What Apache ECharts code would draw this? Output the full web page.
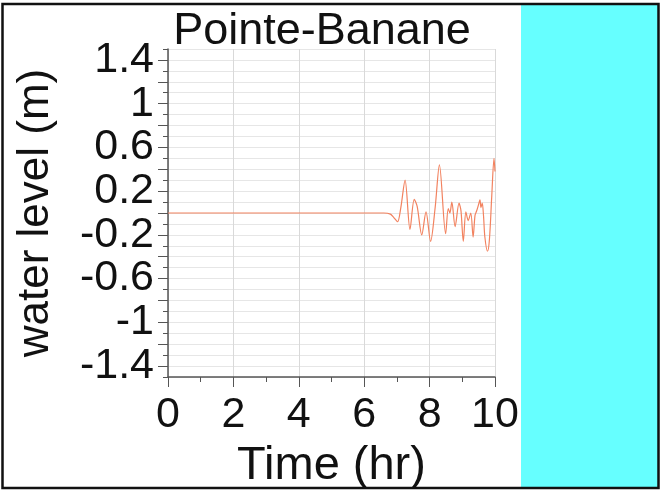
<!DOCTYPE html>
<html>
<head>
<meta charset="utf-8">
<script src="https://cdn.jsdelivr.net/npm/echarts@6/dist/echarts.min.js"></script>
<style>
  html, body { margin: 0; padding: 0; background: #ffffff; }
  #chart { width: 669px; height: 490px; }
</style>
</head>
<body>
<div id="chart"></div>
<script>
// ---- data ----
const titleText = "Pointe-Banane";
const xName = "Time (hr)";
const yName = "water level (m)";
const timeHr = [0, 6.6, 6.8, 6.9, 7.02, 7.12, 7.25, 7.4, 7.53, 7.62, 7.76, 7.89, 8.03, 8.17, 8.3, 8.49, 8.57, 8.62, 8.68, 8.78, 8.9, 8.96, 9.03, 9.11, 9.18, 9.26, 9.33, 9.39, 9.44, 9.49, 9.54, 9.57, 9.61, 9.65, 9.69, 9.77, 9.83, 9.9, 9.97, 10.0];
const waterLevel = [0, 0, -0.01, -0.04, -0.08, 0.05, 0.30, -0.15, 0.125, 0.06, -0.20, 0.01, -0.26, 0.05, 0.44, -0.19, 0.04, 0.0, 0.10, -0.125, 0.09, 0.02, -0.26, 0.01, -0.07, 0.0, -0.22, -0.02, 0.02, 0.07, 0.12, 0.05, 0.09, -0.03, -0.22, -0.35, -0.24, 0.15, 0.5, 0.38];
const xTickLabels = [0, 2, 4, 6, 8, 10];
const yTickLabels = [-1.4, -1, -0.6, -0.2, 0.2, 0.6, 1, 1.4];

const seriesData = timeHr.map((t, i) => [t, waterLevel[i]]);
const FONT = "'Liberation Sans', Arial, sans-serif";

const chart = echarts.init(document.getElementById('chart'), null, { renderer: 'canvas' });

const gTop = 49, gBottom = 113, gLeft = 168, gRight = 174;
const unitPx = (490 - gTop - gBottom) / 3.0;

chart.setOption({
  animation: false,
  backgroundColor: '#ffffff',
  title: {
    text: titleText,
    left: 317,
    top: 4,
    textAlign: 'center',
    textStyle: { fontFamily: FONT, fontSize: 45, fontWeight: 'normal', color: '#111' }
  },
  graphic: [
    { type: 'rect', shape: { x: 521, y: 4, width: 137, height: 483 }, style: { fill: '#66ffff' }, z: 0 },
    { type: 'rect', shape: { x: 2.5, y: 4, width: 656, height: 484 }, style: { fill: 'none', stroke: '#111', lineWidth: 2.5 }, z: 100 }
  ],
  grid: [
    { left: gLeft, right: gRight, top: gTop, bottom: gBottom, containLabel: false, outerBoundsMode: 'none' },
    { left: gLeft, right: gRight, top: gTop + 0.1 * unitPx, bottom: gBottom + 0.1 * unitPx, containLabel: false, outerBoundsMode: 'none' }
  ],
  xAxis: [
    {
      gridIndex: 0, type: 'value', min: 0, max: 10, interval: 1, position: 'bottom',
      axisLine: { show: true, onZero: false, lineStyle: { color: '#555', width: 1.5 } },
      axisTick: { show: true, length: 5, lineStyle: { color: '#555' } },
      axisLabel: { show: false },
      splitLine: { show: false }
    },
    {
      gridIndex: 0, type: 'value', min: 0, max: 10, interval: 2, position: 'bottom', offset: 0,
      axisLine: { show: false, onZero: false },
      axisTick: { show: true, length: 10, lineStyle: { color: '#555' } },
      axisLabel: {
        show: true, margin: 17, fontFamily: FONT, fontSize: 43, color: '#111',
        formatter: v => xTickLabels.includes(Math.round(v)) ? String(Math.round(v)) : ''
      },
      splitLine: { show: true, lineStyle: { color: '#d9d9d9', width: 1 } },
      name: xName, nameLocation: 'middle', nameGap: 66,
      nameTextStyle: { fontFamily: FONT, fontSize: 47, color: '#111' }
    },
    { gridIndex: 1, type: 'value', min: 0, max: 10, show: false }
  ],
  yAxis: [
    {
      gridIndex: 0, type: 'value', min: -1.5, max: 1.5, interval: 0.1,
      axisLine: { show: true, onZero: false, lineStyle: { color: '#555', width: 1.5 } },
      axisTick: { show: true, length: 5, lineStyle: { color: '#555' } },
      axisLabel: { show: false },
      splitLine: { show: true, lineStyle: { color: '#e6e6e6', width: 1 } },
      name: yName, nameLocation: 'middle', nameGap: 110,
      nameTextStyle: { fontFamily: FONT, fontSize: 44, color: '#111' }
    },
    {
      gridIndex: 1, type: 'value', min: -1.4, max: 1.4, interval: 0.2,
      axisLine: { show: false, onZero: false },
      axisTick: { show: true, length: 10, lineStyle: { color: '#555' } },
      axisLabel: {
        show: true, margin: 14, fontFamily: FONT, fontSize: 43, color: '#111',
        formatter: v => {
          const r = Math.round(v * 10) / 10;
          return yTickLabels.some(t => Math.abs(t - r) < 1e-6) ? String(r) : '';
        }
      },
      splitLine: { show: false }
    }
  ],
  series: [{
    type: 'line',
    xAxisIndex: 0, yAxisIndex: 0,
    data: seriesData,
    showSymbol: false,
    smooth: 0.3,
    lineStyle: { color: '#f2825f', width: 1.2 },
    z: 5
  }]
});
</script>
</body>
</html>
